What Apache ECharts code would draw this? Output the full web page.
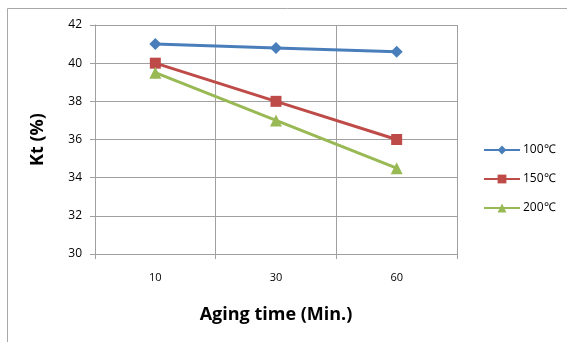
<!DOCTYPE html>
<html>
<head>
<meta charset="utf-8">
<script src="https://cdn.jsdelivr.net/npm/echarts@6/dist/echarts.min.js"></script>
<style>
  html, body { margin: 0; padding: 0; background: #fff; }
  #chart { width: 567px; height: 342px; }
</style>
</head>
<body>
<div id="chart"></div>
<script>
// data
const categories = ['10', '30', '60']
const seriesNames = ['100℃', '150℃', '200℃']
const kt100 = [41.0, 40.8, 40.6]
const kt150 = [40.0, 38.0, 36.0]
const kt200 = [39.5, 37.0, 34.5]

const colors = ['#4A7EBB', '#BE4B48', '#98B954']
const symbols = ['diamond', 'rect', 'triangle']
const values = [kt100, kt150, kt200]

const chart = echarts.init(document.getElementById('chart'))

const font = '"Open Sans", "Liberation Sans", sans-serif'

chart.setOption({
  animation: false,
  textStyle: { fontFamily: font },
  // chart frame: only top and left edges are visible in the picture
  graphic: [{
    type: 'polyline',
    shape: { points: [[7.5, 342], [7.5, 8.5], [567, 8.5]] },
    style: { fill: 'none', stroke: '#a8a8a8', lineWidth: 1 },
    silent: true
  }],
  grid: { left: 95, top: 25, width: 362, height: 229 },
  legend: {
    orient: 'vertical',
    left: 478,
    top: 139,
    itemGap: 17,
    itemWidth: 36,
    itemHeight: 11,
    textStyle: { fontSize: 12, color: '#000', fontFamily: font, padding: [0, 0, 0, -2] },
    data: seriesNames
  },
  xAxis: {
    type: 'category',
    data: categories,
    boundaryGap: true,
    name: 'Aging time (Min.)',
    nameLocation: 'middle',
    nameGap: 52,
    nameTextStyle: { fontSize: 18, fontWeight: 'bold', color: '#000' },
    axisLine: { lineStyle: { color: '#a0a0a0', width: 1 } },
    axisTick: { show: true, length: 5, lineStyle: { color: '#a0a0a0' } },
    axisLabel: { fontSize: 11, color: '#000', margin: 18 },
    splitLine: { show: true, lineStyle: { color: '#a0a0a0', width: 1 } }
  },
  yAxis: {
    type: 'value',
    min: 30,
    max: 42,
    interval: 2,
    name: 'Kt (%)',
    nameLocation: 'middle',
    nameGap: 48,
    nameTextStyle: { fontSize: 18, fontWeight: 'bold', color: '#000' },
    axisLine: { show: true, lineStyle: { color: '#a0a0a0', width: 1 } },
    axisTick: { show: true, length: 5, lineStyle: { color: '#a0a0a0' } },
    axisLabel: { fontSize: 12, color: '#000', margin: 13 },
    splitLine: { show: true, lineStyle: { color: '#a0a0a0', width: 1 } }
  },
  series: seriesNames.map((name, i) => ({
    name: name,
    type: 'line',
    data: values[i],
    symbol: symbols[i],
    symbolSize: i === 1 ? 11 : 12,
    lineStyle: { color: colors[i], width: 3 },
    itemStyle: { color: colors[i] }
  }))
})
</script>
</body>
</html>
